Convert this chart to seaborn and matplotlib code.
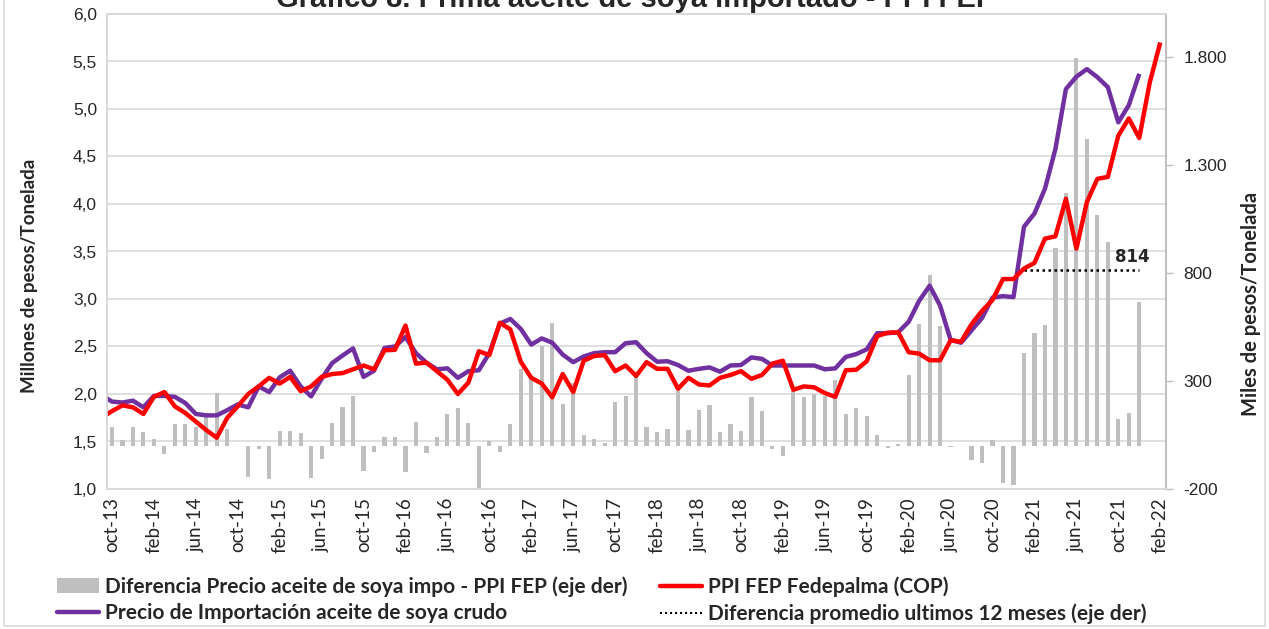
import numpy as np
import pandas as pd
import matplotlib
matplotlib.use("Agg")
import matplotlib.pyplot as plt
import seaborn as sns
from matplotlib.patches import Patch, Rectangle
from matplotlib.lines import Line2D

# ---------------------------------------------------------------- data
# PPI FEP Fedepalma (millones COP / t), monthly from sep-13 to feb-22
ppi_fep = [
    1.75,
    1.82, 1.88, 1.86, 1.79, 1.97, 2.02, 1.87, 1.80, 1.71, 1.62,
    1.54, 1.75, 1.87, 2.00, 2.08, 2.17, 2.11, 2.18, 2.03, 2.08,
    2.18, 2.21, 2.22, 2.26, 2.30, 2.26, 2.46, 2.465, 2.72, 2.32,
    2.33, 2.24, 2.15, 2.00, 2.12, 2.45, 2.41, 2.75, 2.68, 2.34,
    2.17, 2.11, 1.965, 2.21, 2.02, 2.35, 2.40, 2.41, 2.24, 2.30,
    2.19, 2.335, 2.265, 2.265, 2.055, 2.17, 2.10, 2.09, 2.17, 2.20,
    2.24, 2.16, 2.20, 2.32, 2.35, 2.045, 2.08, 2.07, 2.01, 1.97,
    2.25, 2.255, 2.345, 2.61, 2.645, 2.65, 2.44, 2.425, 2.355, 2.355,
    2.565, 2.55, 2.735, 2.875, 2.99, 3.21, 3.21, 3.32, 3.38, 3.635,
    3.66, 4.055, 3.53, 4.02, 4.265, 4.285, 4.72, 4.90, 4.695, 5.28,
    5.70,
]
ppi_fep_start = "2013-09"

# Precio de importacion aceite de soya crudo (millones COP / t), sep-13 to dec-21
precio_import = [
    1.99,
    1.92, 1.91, 1.93, 1.86, 1.98, 1.98, 1.97, 1.905, 1.79, 1.775,
    1.775, 1.83, 1.89, 1.86, 2.08, 2.02, 2.175, 2.245, 2.08, 1.975,
    2.16, 2.325, 2.405, 2.48, 2.18, 2.245, 2.485, 2.50, 2.60, 2.43,
    2.33, 2.26, 2.27, 2.17, 2.24, 2.25, 2.43, 2.74, 2.79, 2.685,
    2.52, 2.585, 2.54, 2.415, 2.335, 2.395, 2.43, 2.44, 2.44, 2.535,
    2.545, 2.43, 2.34, 2.345, 2.305, 2.245, 2.265, 2.28, 2.235, 2.30,
    2.305, 2.385, 2.37, 2.30, 2.30, 2.30, 2.30, 2.30, 2.26, 2.27,
    2.39, 2.42, 2.47, 2.64, 2.64, 2.65, 2.76, 2.98, 3.14, 2.93,
    2.57, 2.54, 2.67, 2.80, 3.015, 3.03, 3.02, 3.76, 3.90, 4.16,
    4.58, 5.21, 5.34, 5.42, 5.335, 5.23, 4.86, 5.04, 5.37,
]
precio_import_start = "2013-09"

# Diferencia precio importado - PPI FEP (miles COP / t), oct-13 to dec-21
diferencia = [
    86, 29, 86, 66, 33, -38, 101, 101, 86, 140,
    245, 78, -3, -146, -15, -154, 67, 70, 59, -150,
    -61, 107, 181, 229, -115, -27, 39, 39, -123, 109,
    -33, 42, 149, 177, 106, -198, 21, -30, 101, 356,
    310, 464, 569, 195, 291, 49, 33, 15, 205, 229,
    319, 89, 66, 78, 252, 75, 164, 189, 63, 101,
    70, 226, 163, -15, -49, 252, 226, 242, 232, 306,
    149, 177, 137, 49, -12, 10, 328, 566, 790, 555,
    -4, -3, -66, -79, 29, -171, -182, 432, 523, 558,
    916, 1169, 1795, 1419, 1070, 944, 126, 150, 666,
]
diferencia_start = "2013-10"

# Promedio de la diferencia en los ultimos 12 meses (miles COP / t)
prom_12m = 814
prom_desde, prom_hasta = "2021-01", "2021-12"

tick_labels = [
    "oct-13", "feb-14", "jun-14", "oct-14", "feb-15", "jun-15", "oct-15",
    "feb-16", "jun-16", "oct-16", "feb-17", "jun-17", "oct-17", "feb-18",
    "jun-18", "oct-18", "feb-19", "jun-19", "oct-19", "feb-20", "jun-20",
    "oct-20", "feb-21", "jun-21", "oct-21", "feb-22",
]
tick_every = 4

left_ticks = np.arange(1.0, 6.01, 0.5)
right_ticks = [-200, 300, 800, 1300, 1800]

title = "Gráfico 8. Prima aceite de soya importado - PPI FEP"
ylabel_left = "Millones de pesos/Tonelada"
ylabel_right = "Miles de pesos/Tonelada"
lbl_dif = "Diferencia Precio aceite de soya impo - PPI FEP (eje der)"
lbl_ppi = "PPI FEP Fedepalma (COP)"
lbl_imp = "Precio de Importación aceite de soya crudo"
lbl_prom = "Diferencia promedio ultimos 12 meses (eje der)"

# ---------------------------------------------------------------- helpers
ORIGIN = pd.Period("2013-10", freq="M")


def month_pos(start, n):
    periods = pd.period_range(start, periods=n, freq="M")
    return np.array([(p - ORIGIN).n for p in periods], dtype=float)


def fmt_es(v, dec):
    s = f"{v:,.{dec}f}"
    return s.replace(",", "X").replace(".", ",").replace("X", ".")


# ---------------------------------------------------------------- style
sns.set_style("white")
humanist = ["Lato", "Liberation Sans", "DejaVu Sans"]
plt.rcParams["font.family"] = ["Liberation Sans", "DejaVu Sans"]

RED = "#FF0000"
PURPLE = "#7030A0"
GREY = "#BFBFBF"
GRID = "#D9D9D9"

W, H = 1269, 629
fig = plt.figure(figsize=(W / 100, H / 100), dpi=100)
fig.patch.set_facecolor("white")

L, R, T, B = 106.7, 1165.5, 14.0, 489.0
ax = fig.add_axes([L / W, 1 - B / H, (R - L) / W, (B - T) / H])
ax2 = ax.twinx()
ax.set_zorder(ax2.get_zorder() + 1)
ax.patch.set_visible(False)

ax.set_ylim(1.0, 6.0)
ax2.set_ylim(-200, 2000)

# bars (right axis)
x_dif = month_pos(diferencia_start, len(diferencia))
sns.barplot(x=x_dif, y=diferencia, native_scale=True, width=0.4,
            color=GREY, saturation=1, errorbar=None, ax=ax2,
            linewidth=0)

# 12-month average (right axis)
x_prom = month_pos(prom_desde, (pd.Period(prom_hasta, freq="M") -
                                pd.Period(prom_desde, freq="M")).n + 1)
sns.lineplot(x=x_prom, y=[prom_12m] * len(x_prom), color="black",
             linewidth=1.8, linestyle=(0, (1, 1.4)), ax=ax2,
             estimator=None, legend=False)
ax2.annotate(f"{prom_12m}", xy=(x_prom[-1], prom_12m), xytext=(-5, 3),
             textcoords="offset points", ha="center", va="bottom",
             fontsize=12, fontweight="bold", family="DejaVu Sans")

# lines (left axis)
x_ppi = month_pos(ppi_fep_start, len(ppi_fep))
x_imp = month_pos(precio_import_start, len(precio_import))
sns.lineplot(x=x_imp, y=precio_import, color=PURPLE, linewidth=3.2,
             ax=ax, estimator=None, sort=False, legend=False)
sns.lineplot(x=x_ppi, y=ppi_fep, color=RED, linewidth=3.2,
             ax=ax, estimator=None, sort=False, legend=False)
for ln in ax.lines:
    ln.set_solid_joinstyle("round")
    ln.set_solid_capstyle("butt")

# gridlines at the left-axis ticks, drawn behind the bars
grid_r = np.interp(left_ticks, ax.get_ylim(), ax2.get_ylim())
ax2.set_yticks(grid_r, minor=True)
ax2.grid(which="minor", axis="y", color=GRID, linewidth=1.2)
ax2.grid(which="major", visible=False)
ax2.set_axisbelow(True)
ax.grid(False)

# x axis
ax.set_xlim(-0.5, 100.5)
xt = np.arange(0, len(tick_labels) * tick_every, tick_every)
ax.set_xticks(xt)
ax.set_xticklabels(tick_labels, rotation=90, fontsize=13.5, family=humanist)
ax.tick_params(axis="x", length=0, pad=6)
ax.set_xlabel("")
ax2.set_xlabel("")

# left y axis
ax.set_yticks(left_ticks)
ax.set_yticklabels([fmt_es(v, 1) for v in left_ticks], fontsize=12.5)
ax.tick_params(axis="y", length=0, pad=7)
ax.set_ylabel("")

# right y axis
ax2.set_yticks(right_ticks)
ax2.set_yticklabels([fmt_es(v, 0) for v in right_ticks], fontsize=12.5)
ax2.tick_params(axis="y", which="major", length=5, width=1, color=GREY,
                pad=8)
ax2.tick_params(axis="y", which="minor", length=0)
ax2.set_ylabel("")

for a in (ax, ax2):
    for side, sp in a.spines.items():
        sp.set_color(GRID)
        sp.set_linewidth(1.2)
ax2.spines["right"].set_color(GREY)
ax.spines["right"].set_color(GREY)

# axis titles
fig.text(30 / W, 1 - 276 / H, ylabel_left, rotation=90, ha="center",
         va="center", fontsize=13.5, fontweight="bold", family=humanist)
fig.text(1251 / W, 1 - 304 / H, ylabel_right, rotation=90, ha="center",
         va="center", fontsize=14.5, fontweight="bold", family=humanist)

# title (partly outside the canvas at the top)
fig.text(636 / W, 1 - 7 / H, title, ha="center", va="baseline",
         fontsize=21, fontweight="bold")

# legend
h_dif = Patch(facecolor=GREY, edgecolor="none")
h_imp = Line2D([], [], color=PURPLE, linewidth=3.2)
h_ppi = Line2D([], [], color=RED, linewidth=3.2)
h_prom = Line2D([], [], color="black", linewidth=1.5, linestyle=(0, (1, 1.4)))
leg_kw = dict(frameon=False, handlelength=2.0, handleheight=0.7,
              handletextpad=0.3, labelspacing=0.3, borderpad=0,
              prop={"family": humanist, "weight": "bold", "size": 15},
              loc="upper left")
fig.legend([h_dif, h_imp], [lbl_dif, lbl_imp],
           bbox_to_anchor=(47 / W, 1 - 566 / H), **leg_kw)
fig.legend([h_ppi, h_prom], [lbl_ppi, lbl_prom],
           bbox_to_anchor=(650 / W, 1 - 566 / H), **leg_kw)

# chart-area border
fig.patches.append(Rectangle((4 / W, 3 / H), (1265 - 4) / W, 1.2,
                             transform=fig.transFigure, fill=False,
                             edgecolor=GRID, linewidth=1.2))

fig.savefig("out.png", dpi=100, facecolor="white")
